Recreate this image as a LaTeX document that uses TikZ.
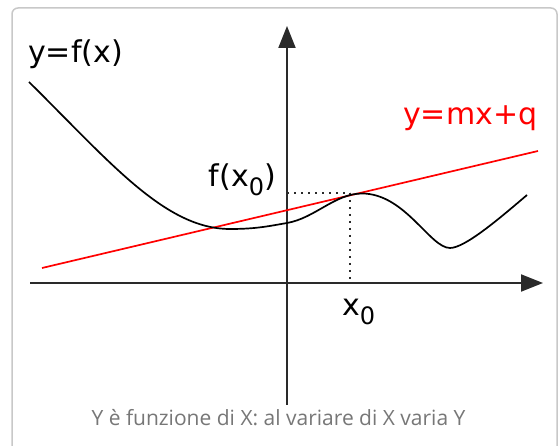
\documentclass[tikz,border=0pt]{standalone}
\usepackage{fontspec}
\setmainfont{DejaVu Sans}
\newfontfamily\capfont{Open Sans}
\usetikzlibrary{arrows.meta}
\definecolor{framegray}{HTML}{C8C8C8}
\definecolor{axisgray}{HTML}{2A2A2A}
\definecolor{capgray}{HTML}{777777}
\newcommand{\mysub}[1]{\raisebox{-0.3em}{\scalebox{0.8}{#1}}}
\begin{document}
\begin{tikzpicture}[x=1pt,y=-1pt,
  axis/.style={draw=axisgray, line width=2pt, -{Triangle[length=22pt,width=17pt]}},
  curve/.style={draw=black, line width=1.7pt},
  tangent/.style={draw=red, line width=1.7pt},
  guide/.style={draw=axisgray, line width=1.6pt, dash pattern=on 1.6pt off 5.4pt},
  lbl/.style={font=\fontsize{30}{32}\selectfont, inner sep=0pt},
  caption/.style={font=\capfont\fontsize{21}{24}\selectfont, text=capgray, inner sep=0pt}]
\useasboundingbox (0,0) rectangle (558,446);
\clip (0,0) rectangle (558,446);
\fill[white] (0,0) rectangle (558,446);
% frame
\draw[framegray, line width=1.5pt, rounded corners=6pt] (12,470) -- (12,8) -- (557,8) -- (557,470);
% named points
\coordinate (ybot) at (287,405);
\coordinate (ytop) at (287,26);
\coordinate (xleft) at (30,283);
\coordinate (xright) at (543,283);
\coordinate (tp) at (350,193);
\coordinate (tpy) at (287,193);
\coordinate (tpx) at (350,283);
\coordinate (rstart) at (42,268);
\coordinate (rend) at (538,151);
% axes
\draw[axis] (ybot) -- (ytop);
\draw[axis] (xleft) -- (xright);
% guides
\draw[guide] (tpy) -- (tp);
\draw[guide] (tp) -- (tpx);
% tangent line
\draw[tangent] (rstart) -- (rend);
% function curve
\draw[curve] (29,82) .. controls (110,162) and (165,229) .. (230,229)
  .. controls (255,229) and (267,226.5) .. (287,223)
  .. controls (315,218.1) and (335,193.5) .. (362,193.5)
  .. controls (405,193.5) and (430,248) .. (450,248)
  .. controls (465,248) and (500,218) .. (527,195);
% labels
\node[lbl, anchor=base west] (lf) at (28,63) {y=f(x)};
\node[lbl, anchor=base west, text=red] (lt) at (403,125) {y=mx+q};
\node[lbl, anchor=base east] (lfx) at (276,187) {f(x\mysub{0})};
\node[lbl, anchor=base west] (lx) at (342,316) {x\mysub{0}};
\node[caption, anchor=base] (cap) at (278.5,426) {Y è funzione di X: al variare di X varia Y};
\end{tikzpicture}
\end{document}
